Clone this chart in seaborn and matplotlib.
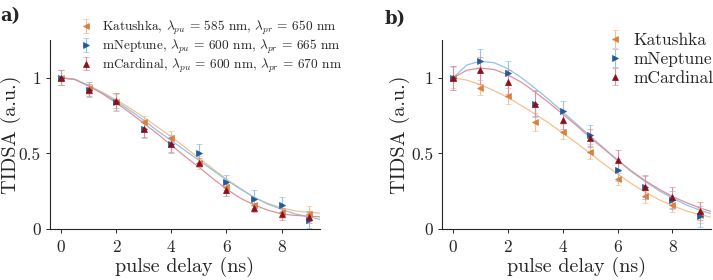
import numpy as np
import pandas as pd
import matplotlib
matplotlib.use("Agg")
import matplotlib.pyplot as plt
import seaborn as sns

# measured points
delay = [0, 1, 2, 3, 4, 5, 6, 7, 8, 9]

a_katushka = [1.0, 0.93, 0.84, 0.71, 0.60, 0.44, 0.28, 0.16, 0.11, 0.10]
a_mneptune = [1.0, 0.92, 0.84, 0.66, 0.56, 0.50, 0.31, 0.20, 0.16, 0.06]
a_mcardinal = [1.0, 0.92, 0.85, 0.66, 0.56, 0.44, 0.26, 0.14, 0.10, 0.08]
a_err_katushka = [0.05, 0.04, 0.05, 0.04, 0.05, 0.04, 0.04, 0.04, 0.04, 0.05]
a_err_mneptune = [0.05, 0.05, 0.06, 0.06, 0.06, 0.06, 0.05, 0.06, 0.05, 0.05]
a_err_mcardinal = [0.05, 0.04, 0.05, 0.05, 0.05, 0.03, 0.04, 0.03, 0.04, 0.04]

b_katushka = [1.0, 0.935, 0.88, 0.71, 0.645, 0.51, 0.33, 0.22, 0.16, 0.09]
b_mneptune = [1.0, 1.11, 1.03, 0.83, 0.78, 0.62, 0.39, 0.28, 0.19, 0.085]
b_mcardinal = [1.0, 1.05, 0.97, 0.83, 0.72, 0.60, 0.455, 0.28, 0.21, 0.12]
b_err_katushka = [0.07, 0.05, 0.05, 0.06, 0.05, 0.05, 0.04, 0.05, 0.05, 0.05]
b_err_mneptune = [0.08, 0.08, 0.08, 0.09, 0.07, 0.07, 0.07, 0.07, 0.06, 0.07]
b_err_mcardinal = [0.08, 0.09, 0.08, 0.08, 0.06, 0.06, 0.07, 0.08, 0.07, 0.06]

# fitted curves
fit_x = [0, 0.5, 1, 1.5, 2, 2.5, 3, 3.5, 4, 4.5, 5, 5.5, 6, 6.5, 7, 7.5, 8, 8.5, 9, 9.5]
a_fit_katushka = [1.0, 0.99, 0.95, 0.905, 0.855, 0.80, 0.74, 0.675, 0.61, 0.54,
                  0.47, 0.40, 0.33, 0.27, 0.21, 0.17, 0.14, 0.12, 0.11, 0.105]
a_fit_mneptune = [1.0, 0.99, 0.95, 0.90, 0.845, 0.785, 0.72, 0.65, 0.585, 0.52,
                  0.455, 0.39, 0.325, 0.265, 0.21, 0.165, 0.13, 0.10, 0.08, 0.06]
a_fit_mcardinal = [1.0, 0.99, 0.945, 0.895, 0.835, 0.77, 0.70, 0.63, 0.555, 0.48,
                   0.41, 0.335, 0.265, 0.205, 0.16, 0.125, 0.10, 0.09, 0.085, 0.08]
b_fit_katushka = [1.0, 0.985, 0.955, 0.915, 0.87, 0.815, 0.76, 0.70, 0.635, 0.57,
                  0.50, 0.43, 0.365, 0.30, 0.245, 0.195, 0.155, 0.12, 0.095, 0.075]
b_fit_mneptune = [1.0, 1.085, 1.11, 1.10, 1.06, 1.0, 0.93, 0.855, 0.775, 0.695,
                  0.615, 0.535, 0.455, 0.38, 0.315, 0.255, 0.205, 0.16, 0.125, 0.095]
b_fit_mcardinal = [1.0, 1.05, 1.065, 1.055, 1.02, 0.97, 0.905, 0.835, 0.76, 0.685,
                   0.605, 0.53, 0.455, 0.385, 0.32, 0.265, 0.215, 0.175, 0.14, 0.11]

labels_a = [r'Katushka, $\lambda_{pu}$ = 585 nm, $\lambda_{pr}$ = 650 nm',
            r'mNeptune, $\lambda_{pu}$ = 600 nm, $\lambda_{pr}$ = 665 nm',
            r'mCardinal, $\lambda_{pu}$ = 600 nm, $\lambda_{pr}$ = 670 nm']
labels_b = ['Katushka', 'mNeptune', 'mCardinal']

marker_colors = ['#d9803f', '#1f5b9a', '#8c0f1c']
light_colors = ['#f3c192', '#92c3e3', '#e0909c']
markers = ['<', '>', '^']

sns.set_style('ticks')
plt.rcParams.update({
    'font.family': 'serif',
    'font.serif': ['cmr10', 'DejaVu Serif'],
    'mathtext.fontset': 'cm',
    'axes.formatter.use_mathtext': True,
    'axes.linewidth': 0.8,
    'xtick.major.size': 3,
    'ytick.major.size': 3,
    'xtick.major.width': 0.7,
    'ytick.major.width': 0.7,
})

fig = plt.figure(figsize=(7.13, 2.8), dpi=100)
ax_a = fig.add_axes([0.070, 0.182, 0.379, 0.675])
ax_b = fig.add_axes([0.620, 0.182, 0.377, 0.675])


def draw_panel(ax, pts, errs, fits, labels, legend_anchor, legend_size, ylab_x,
               spacing, textpad):
    for i in range(3):
        df = pd.DataFrame({'x': fit_x, 'y': fits[i]})
        sns.lineplot(data=df, x='x', y='y', ax=ax, color=light_colors[i],
                     linewidth=0.9, legend=False)
    for i in range(3):
        ax.errorbar(delay, pts[i], yerr=errs[i], fmt=markers[i], color=marker_colors[i],
                    ecolor=light_colors[i], elinewidth=0.8, capsize=2.5, capthick=0.8,
                    markersize=4, markeredgewidth=0.5, label=labels[i])
    ax.set_xlim(-0.4, 9.4)
    ax.set_ylim(0, 1.25)
    ax.set_xticks([0, 2, 4, 6, 8])
    ax.set_xticklabels(['0', '2', '4', '6', '8'])
    ax.set_yticks([0, 0.5, 1])
    ax.set_yticklabels(['0', '0.5', '1'])
    ax.tick_params(labelsize=12.5)
    ax.tick_params(axis='x', pad=5)
    ax.set_xlabel('pulse delay (ns)', fontsize=14.5, labelpad=1)
    ax.set_ylabel('TIDSA (a.u.)', fontsize=14.5)
    ax.yaxis.set_label_coords(ylab_x, 0.5)
    sns.despine(ax=ax)
    ax.legend(loc='upper right', bbox_to_anchor=legend_anchor, frameon=False,
              fontsize=legend_size, handlelength=1.0, handletextpad=textpad,
              labelspacing=spacing, borderaxespad=0)


draw_panel(ax_a, [a_katushka, a_mneptune, a_mcardinal],
           [a_err_katushka, a_err_mneptune, a_err_mcardinal],
           [a_fit_katushka, a_fit_mneptune, a_fit_mcardinal],
           labels_a, (1.10, 1.14), 9.6, -0.107, 0.05, 0.7)
draw_panel(ax_b, [b_katushka, b_mneptune, b_mcardinal],
           [b_err_katushka, b_err_mneptune, b_err_mcardinal],
           [b_fit_katushka, b_fit_mneptune, b_fit_mcardinal],
           labels_b, (1.037, 1.075), 12.5, -0.119, 0.2, 0.6)

fig.text(0.0, 0.975, 'a)', fontsize=13, fontweight='bold', va='top', ha='left',
         family='DejaVu Serif')
fig.text(0.54, 0.965, 'b)', fontsize=13, fontweight='bold', va='top', ha='left',
         family='DejaVu Serif')

fig.savefig('out.png', dpi=100)
